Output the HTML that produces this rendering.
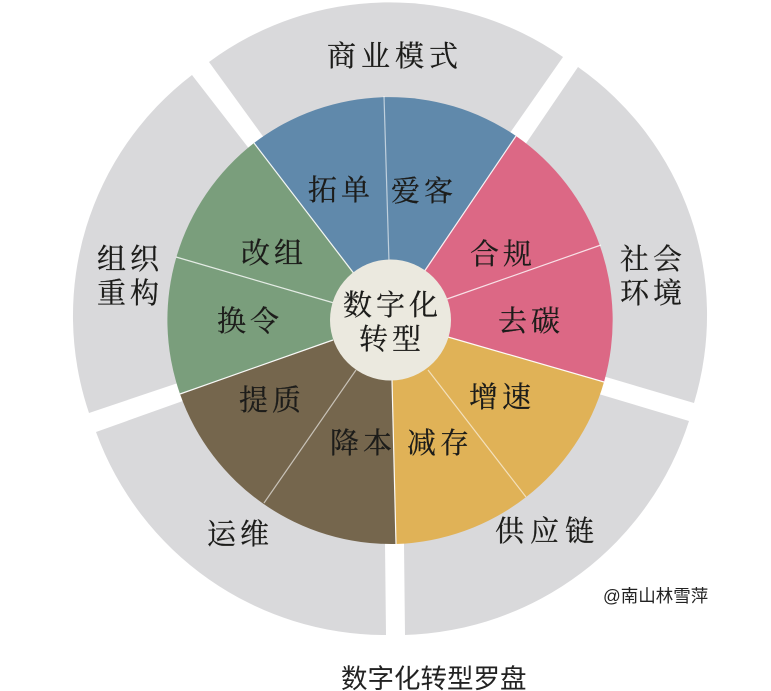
<!DOCTYPE html>
<html lang="zh"><head><meta charset="utf-8"><title>数字化转型罗盘</title>
<style>
html,body{margin:0;padding:0;background:#fff;width:771px;height:691px;overflow:hidden}
svg{display:block}
.k{font-family:"Liberation Serif","Noto Serif CJK SC",serif;font-size:29px;letter-spacing:4px;fill:#1c1c1a;stroke:#1c1c1a;stroke-width:.25px;font-weight:400}
.s{font-family:"Liberation Sans","Noto Sans CJK SC",sans-serif;fill:#222}
</style></head><body>
<svg width="771" height="691" viewBox="0 0 771 691" xmlns="http://www.w3.org/2000/svg">
<rect width="771" height="691" fill="#fff"/>
<g fill="#d9d9db">
<path d="M209 62 A303 303 0 0 1 563 57 L512 130 L390 300 L262 135 Z"/>
<path d="M578 67 A303 303 0 0 1 694 403 L606 377 L400 320 L527 142 Z"/>
<path d="M689 421 A308 308 0 0 1 405 635 L404 544 L400 330 L602 395 Z"/>
<path d="M386 635 A308 308 0 0 1 96 432 L180 402 L380 330 L385 543 Z"/>
<path d="M89 413 A303 303 0 0 1 192 75 L247 146 L380 320 L175 384 Z"/>
</g>
<g>
<path d="M390.5 320 L254 143 A224 224 0 0 1 516 136 Z" fill="#6089ab"/>
<path d="M390.5 320 L516 136 A224 224 0 0 1 604 382 Z" fill="#dc6885"/>
<path d="M390.5 320 L604 382 A224 224 0 0 1 396 544 Z" fill="#e0b257"/>
<path d="M390.5 320 L396 544 A224 224 0 0 1 180 394 Z" fill="#75664d"/>
<path d="M390.5 320 L180 394 A224 224 0 0 1 254 143 Z" fill="#7a9e7c"/>
</g>
<g stroke="#fff" stroke-width="1.2" fill="none">
<line x1="384" y1="96" x2="389" y2="262" stroke-opacity=".6"/>
<line x1="254" y1="143" x2="355" y2="275" stroke-opacity=".9"/>
<line x1="516" y1="136" x2="424" y2="272" stroke-opacity=".9"/>
<line x1="176" y1="257" x2="334" y2="303" stroke-opacity=".8"/>
<line x1="601" y1="245" x2="447" y2="299" stroke-opacity=".8"/>
<line x1="604" y1="382" x2="448" y2="337" stroke-opacity=".95"/>
<line x1="180" y1="394" x2="333" y2="340" stroke-opacity=".95"/>
<line x1="264" y1="503" x2="356" y2="370" stroke-opacity=".6"/>
<line x1="526" y1="497" x2="428" y2="370" stroke-opacity=".6"/>
<line x1="396" y1="544" x2="392" y2="380" stroke-opacity=".95"/>
</g>
<circle cx="390.5" cy="320" r="60.5" fill="#ebe9df"/>
<text class="k" x="327" y="66" style="letter-spacing:5px">商业模式</text>
<text class="k" x="308" y="200">拓单</text>
<text class="k" x="391" y="201">爱客</text>
<text class="k" x="241" y="263">改组</text>
<text class="k" x="470" y="264">合规</text>
<text class="k" x="217" y="331">换令</text>
<text class="k" x="498" y="331">去碳</text>
<text class="k" x="239" y="410">提质</text>
<text class="k" x="469" y="407">增速</text>
<text class="k" x="330" y="453">降本</text>
<text class="k" x="407" y="453">减存</text>
<text class="k" x="207" y="544">运维</text>
<text class="k" x="495" y="541" style="letter-spacing:6px">供应链</text>
<text class="k" x="97" y="269">组织</text>
<text class="k" x="97" y="303">重构</text>
<text class="k" x="620" y="269">社会</text>
<text class="k" x="620" y="303">环境</text>
<text class="k" x="343" y="315">数字化</text>
<text class="k" x="359" y="349">转型</text>
<text class="s" x="603" y="602" font-size="17.5">@南山林雪萍</text>
<text class="s" x="341" y="688" font-size="26.5">数字化转型罗盘</text>
</svg>
</body></html>
